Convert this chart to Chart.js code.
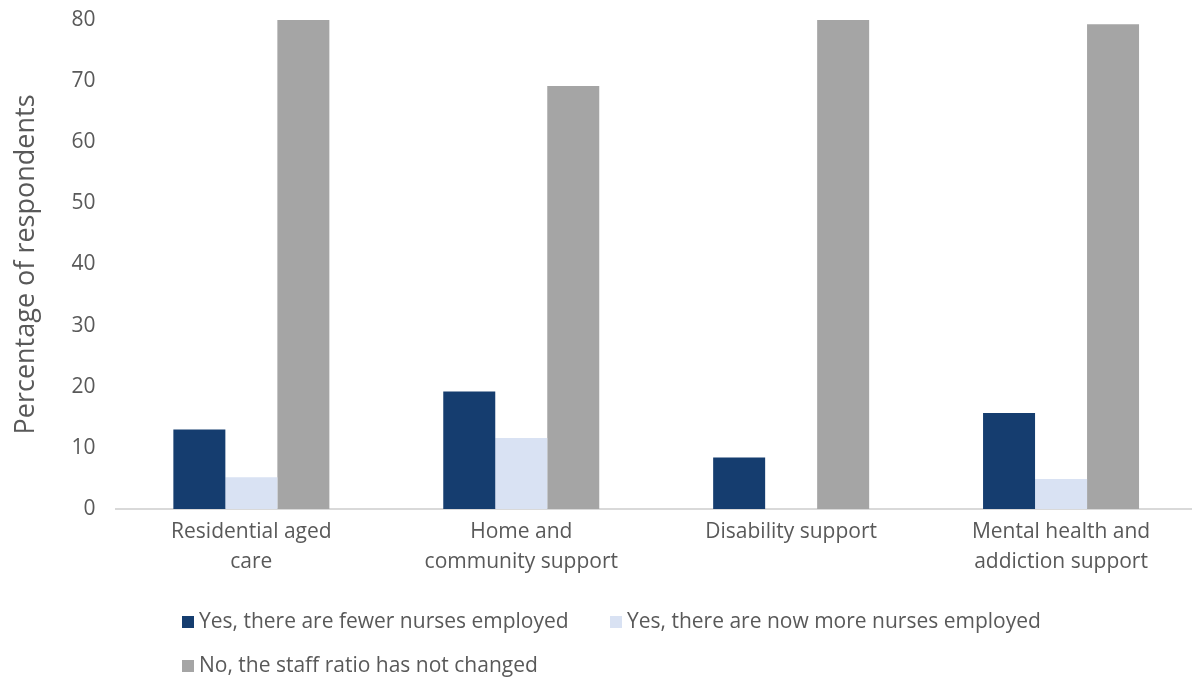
<!DOCTYPE html>
<html>
<head>
<meta charset="utf-8">
<script src="https://cdn.jsdelivr.net/npm/chart.js@4.4.1/dist/chart.umd.min.js"></script>
<style>
  html, body { margin: 0; padding: 0; background: #fff; overflow: hidden; }
  #wrap { position: relative; width: 1197px; height: 677px; }
  #chart { display: block; }
  #legend { position: absolute; left: 0; top: 0; font-family: 'Open Sans', sans-serif; font-size: 21px; color: #595959; }
  .item { position: absolute; white-space: nowrap; line-height: 24px; }
  .box { display: inline-block; width: 12px; height: 12px; margin-right: 5px; vertical-align: 0px; }
</style>
</head>
<body>
<div id="wrap">
  <canvas id="chart" width="1197" height="677"></canvas>
  <div id="legend"></div>
</div>
<script>
const categories = [
  ['Residential aged', 'care'],
  ['Home and', 'community support'],
  'Disability support',
  ['Mental health and', 'addiction support']
]
const seriesNames = [
  'Yes, there are fewer nurses employed',
  'Yes, there are now more nurses employed',
  'No, the staff ratio has not changed'
]
const fewerNurses = [13.0, 19.2, 8.4, 15.7]
const moreNurses = [5.2, 11.6, 0, 4.9]
const noChange = [80, 69.2, 80, 79.3]
const yTicks = [0, 10, 20, 30, 40, 50, 60, 70, 80]

const colors = ['#153d6f', '#d9e2f3', '#a5a5a5']
const values = [fewerNurses, moreNurses, noChange]

const ctx = document.getElementById('chart').getContext('2d')

new Chart(ctx, {
  type: 'bar',
  data: {
    labels: categories,
    datasets: seriesNames.map((name, i) => ({
      label: name,
      data: values[i],
      backgroundColor: colors[i],
      borderWidth: 0,
      barPercentage: 1,
      categoryPercentage: 0.578
    }))
  },
  options: {
    responsive: false,
    animation: false,
    devicePixelRatio: 1,
    layout: {
      padding: { left: 10, right: 1, top: 0, bottom: 92 }
    },
    plugins: {
      legend: { display: false },
      tooltip: { enabled: false }
    },
    scales: {
      x: {
        grid: { display: false, drawTicks: false },
        border: { display: true, color: '#d9d9d9', width: 2 },
        ticks: {
          color: '#595959',
          padding: 8,
          maxRotation: 0,
          autoSkip: false,
          font: { family: 'Open Sans', size: 21, lineHeight: 1.43 }
        }
      },
      y: {
        min: 0,
        max: 80,
        afterBuildTicks: axis => { axis.ticks = yTicks.map(v => ({ value: v })) },
        // tick padding is added above the top label too, take it back out
        afterFit: axis => { axis.paddingTop = 20 },
        grid: { display: false, drawTicks: false },
        border: { display: false },
        ticks: {
          color: '#595959',
          padding: 21,
          font: { family: 'Open Sans', size: 21 }
        },
        title: {
          display: true,
          text: 'Percentage of respondents',
          color: '#595959',
          padding: { top: 0, bottom: 8 },
          font: { family: 'Open Sans', size: 27 }
        }
      }
    }
  }
})

// legend laid out like the original: two items on the first row, one on the second
const legendSpots = [[182, 608], [610, 608], [182, 652]]
const legend = document.getElementById('legend')
seriesNames.forEach((name, i) => {
  const el = document.createElement('div')
  el.className = 'item'
  el.style.left = legendSpots[i][0] + 'px'
  el.style.top = legendSpots[i][1] + 'px'
  el.innerHTML = '<span class="box" style="background:' + colors[i] + '"></span>' + name
  legend.appendChild(el)
})
</script>
</body>
</html>
